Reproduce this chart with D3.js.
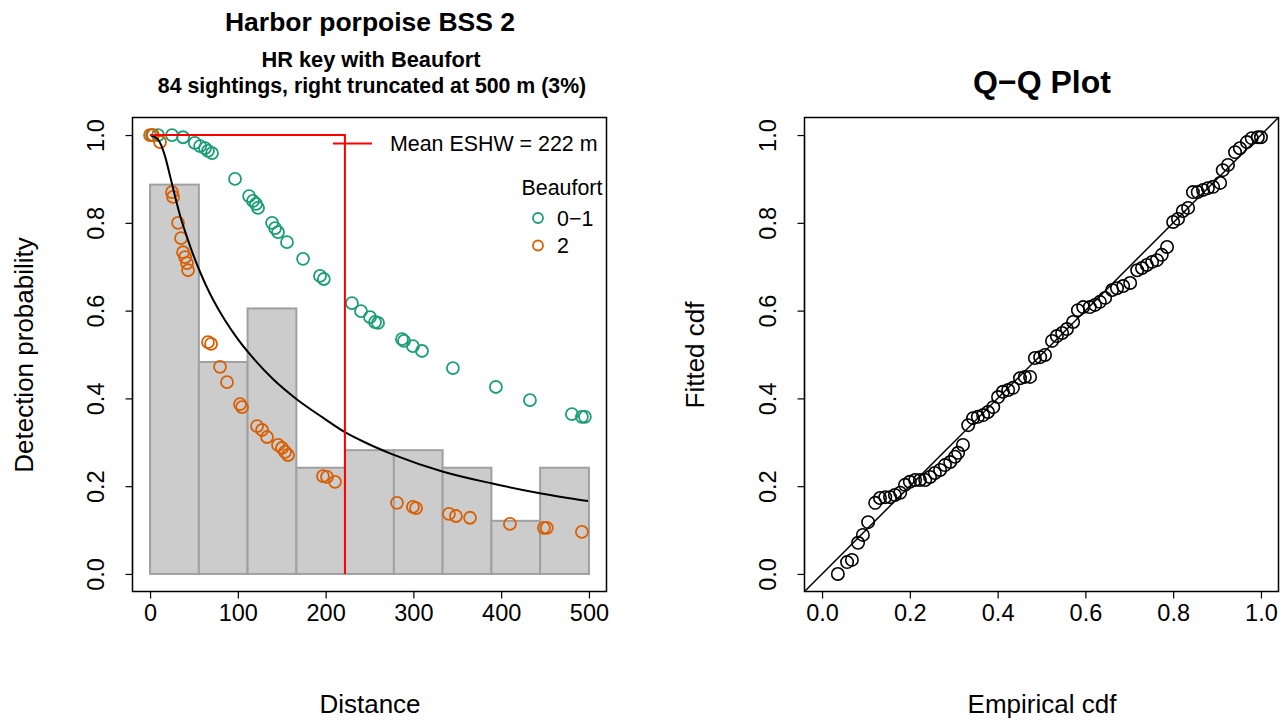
<!DOCTYPE html>
<html>
<head>
<meta charset="utf-8">
<script src="https://cdn.jsdelivr.net/npm/d3@7"></script>
<style>
  body { margin: 0; background: #fff; }
  text { font-family: "Liberation Sans", Arial, sans-serif; fill: #000; }
</style>
</head>
<body>
<div id="chart"></div>
<script>
// Histogram of distances (bin breaks and scaled heights)
const distBreaks = [0, 55.6, 111.1, 166.7, 222.2, 277.8, 333.3, 388.9, 444.4, 500];
const binHeights = [0.887, 0.483, 0.605, 0.242, 0.282, 0.282, 0.242, 0.121, 0.242];

// Detection probability per sighting, Beaufort 0-1
const greenDist = [2.3, 9.1, 25, 37.6, 51, 57, 62.6, 66, 70.6, 96.8, 112.8, 117.3, 120.7, 123, 139, 142.4, 145.8, 156,
  174.3, 193.6, 198, 230, 240.3, 250.6, 256.3, 259.7, 287, 289.3, 299.5, 309.8, 345, 394, 432.8, 480.6, 492, 495.4];
const greenProb = [1.0, 1.0, 1.0, 0.995, 0.982, 0.975, 0.97, 0.964, 0.959, 0.9, 0.861, 0.85, 0.843, 0.834, 0.8, 0.788, 0.779, 0.756,
  0.718, 0.679, 0.672, 0.617, 0.599, 0.585, 0.574, 0.572, 0.535, 0.531, 0.519, 0.508, 0.469, 0.426, 0.396, 0.364, 0.358, 0.358];

// Detection probability per sighting, Beaufort 2
const orangeDist = [0, 3.4, 11.4, 25, 26.2, 31.9, 35.3, 37.6, 39.9, 42.1, 43.3, 66, 69.5, 79.7, 87.7, 102.5, 104.8, 121.9, 127.6,
  133.3, 145.8, 150.3, 153.8, 157.2, 197, 201.6, 210.7, 281.3, 299.5, 303, 340.5, 348.5, 364.5, 410, 448.7, 452, 492];
const orangeProb = [1.0, 1.0, 0.984, 0.87, 0.859, 0.8, 0.765, 0.733, 0.722, 0.708, 0.692, 0.528, 0.524, 0.472, 0.437, 0.387, 0.38, 0.337, 0.328,
  0.312, 0.294, 0.287, 0.278, 0.271, 0.223, 0.221, 0.21, 0.162, 0.153, 0.15, 0.137, 0.132, 0.128, 0.114, 0.105, 0.105, 0.096];

// Average fitted detection function
const curveDist = [0, 9, 17, 23, 28.5, 34, 42, 49, 57, 65, 72, 85, 100, 120, 140, 167, 197, 222, 250, 277, 334, 390, 444, 499];
const curveProb = [1.0, 0.99, 0.952, 0.905, 0.86, 0.818, 0.768, 0.728, 0.688, 0.652, 0.624, 0.579, 0.535, 0.486, 0.444, 0.398,
  0.356, 0.323, 0.295, 0.272, 0.233, 0.206, 0.184, 0.166];

const eshw = 222;

// Q-Q plot values
const qqEmpirical = [0.036, 0.057, 0.068, 0.082, 0.093, 0.105, 0.121, 0.132, 0.144, 0.155, 0.166, 0.178, 0.189, 0.2, 0.212, 0.223,
  0.235, 0.246, 0.257, 0.269, 0.28, 0.292, 0.303, 0.31, 0.321, 0.333, 0.344, 0.355, 0.367, 0.378, 0.39, 0.401, 0.412, 0.424,
  0.435, 0.451, 0.462, 0.474, 0.485, 0.497, 0.508, 0.524, 0.535, 0.547, 0.558, 0.572, 0.583, 0.595, 0.61, 0.622, 0.633, 0.645,
  0.661, 0.672, 0.686, 0.702, 0.718, 0.729, 0.74, 0.752, 0.763, 0.774, 0.786, 0.8, 0.811, 0.822, 0.834, 0.845, 0.856, 0.868,
  0.879, 0.891, 0.907, 0.913, 0.925, 0.941, 0.952, 0.968, 0.979, 0.993, 1.0];
const qqFitted = [0.0, 0.027, 0.032, 0.071, 0.089, 0.118, 0.162, 0.173, 0.175, 0.175, 0.18, 0.185, 0.203, 0.21, 0.214, 0.214,
  0.214, 0.221, 0.23, 0.237, 0.248, 0.255, 0.267, 0.276, 0.294, 0.339, 0.355, 0.358, 0.362, 0.369, 0.38, 0.403, 0.415, 0.419,
  0.424, 0.446, 0.449, 0.449, 0.492, 0.494, 0.499, 0.531, 0.542, 0.549, 0.558, 0.574, 0.601, 0.608, 0.608, 0.613, 0.62, 0.629,
  0.647, 0.651, 0.656, 0.663, 0.692, 0.697, 0.704, 0.711, 0.715, 0.727, 0.745, 0.802, 0.809, 0.827, 0.834, 0.87, 0.87, 0.875,
  0.879, 0.882, 0.891, 0.92, 0.932, 0.961, 0.97, 0.984, 0.993, 0.995, 0.995];

const distTicks = [0, 100, 200, 300, 400, 500];
const probTicks = [0, 0.2, 0.4, 0.6, 0.8, 1.0];
const cdfTicks = [0, 0.2, 0.4, 0.6, 0.8, 1.0];

const legendLabels = ["0\u22121", "2"];
const colors = ["#1B9E77", "#D95F02"];

const width = 1288;
const height = 721;
const tickFont = 23.5;
const labFont = 26;
const legFont = 21.4;

const svg = d3.select("#chart")
  .append("svg")
  .attr("width", width)
  .attr("height", height);

svg.append("rect").attr("width", width).attr("height", height).attr("fill", "#fff");

// Escalas (estilo R: 4% de margen)
const x1 = d3.scaleLinear().domain([-20, 520]).range([132.5, 606.5]);
const y1 = d3.scaleLinear().domain([-0.04, 1.04]).range([591.5, 117.5]);
const x2 = d3.scaleLinear().domain([-0.04, 1.04]).range([804.5, 1278.5]);
const y2 = d3.scaleLinear().domain([-0.04, 1.04]).range([591.5, 117.5]);

const fmt1 = d3.format(".1f");

// Ejes
function bottomAxis(scale, ticks, fmt) {
  const g = svg.append("g")
    .attr("transform", `translate(0,${591.5})`)
    .call(d3.axisBottom(scale).tickValues(ticks).tickSize(7).tickPadding(0).tickFormat(fmt));
  g.select(".domain").remove();
  g.selectAll(".tick line").attr("stroke", "#000").attr("stroke-width", 1.2);
  g.selectAll(".tick text").attr("y", 29).attr("dy", 0)
    .style("font-size", tickFont + "px");
  g.append("line")
    .attr("x1", scale(ticks[0])).attr("x2", scale(ticks[ticks.length - 1]))
    .attr("stroke", "#000").attr("stroke-width", 1.2);
}

function leftAxis(scale, ticks, xPos) {
  const g = svg.append("g")
    .attr("transform", `translate(${xPos},0)`)
    .call(d3.axisLeft(scale).tickValues(ticks).tickSize(7).tickFormat(fmt1));
  g.select(".domain").remove();
  g.selectAll(".tick line").attr("stroke", "#000").attr("stroke-width", 1.2);
  g.selectAll(".tick text")
    .attr("transform", "rotate(-90)")
    .attr("x", 0).attr("y", -28.5).attr("dy", 0)
    .style("text-anchor", "middle")
    .style("font-size", tickFont + "px");
  g.append("line")
    .attr("y1", scale(ticks[0])).attr("y2", scale(ticks[ticks.length - 1]))
    .attr("stroke", "#000").attr("stroke-width", 1.2);
}

// ---------- Panel izquierdo: función de detección ----------

// Barras del histograma
const bins = binHeights.map((h, i) => ({ x0: distBreaks[i], x1: distBreaks[i + 1], h: h }));
svg.selectAll(".bar")
  .data(bins)
  .enter()
  .append("rect")
  .attr("class", "bar")
  .attr("x", d => x1(d.x0))
  .attr("y", d => y1(d.h))
  .attr("width", d => x1(d.x1) - x1(d.x0))
  .attr("height", d => y1(0) - y1(d.h))
  .attr("fill", "#cccccc")
  .attr("stroke", "#a0a0a0")
  .attr("stroke-width", 2);

// Puntos por Beaufort
const pts = greenDist.map((d, i) => ({ d: d, p: greenProb[i], c: 0 }))
  .concat(orangeDist.map((d, i) => ({ d: d, p: orangeProb[i], c: 1 })));
svg.selectAll(".pt")
  .data(pts)
  .enter()
  .append("circle")
  .attr("class", "pt")
  .attr("cx", d => x1(d.d))
  .attr("cy", d => y1(d.p))
  .attr("r", 6)
  .attr("fill", "none")
  .attr("stroke", d => colors[d.c])
  .attr("stroke-width", 1.8);

// Curva ajustada
const line1 = d3.line()
  .x((d, i) => x1(curveDist[i]))
  .y((d, i) => y1(curveProb[i]))
  .curve(d3.curveMonotoneX);
svg.append("path")
  .attr("d", line1(curveDist))
  .attr("fill", "none")
  .attr("stroke", "#000")
  .attr("stroke-width", 2);

// Líneas del ESHW
svg.append("path")
  .attr("d", `M${x1(0)},${y1(1)}H${x1(eshw)}V${y1(0)}`)
  .attr("fill", "none")
  .attr("stroke", "#ff0000")
  .attr("stroke-width", 2);

// Marco
svg.append("rect")
  .attr("x", x1(-20)).attr("y", y1(1.04))
  .attr("width", x1(520) - x1(-20)).attr("height", y1(-0.04) - y1(1.04))
  .attr("fill", "none").attr("stroke", "#000").attr("stroke-width", 1.5);

bottomAxis(x1, distTicks, d3.format("d"));
leftAxis(y1, probTicks, x1(-20));

// Leyenda
svg.append("line")
  .attr("x1", 333).attr("x2", 372).attr("y1", 143.5).attr("y2", 143.5)
  .attr("stroke", "#ff0000").attr("stroke-width", 2);
svg.append("text")
  .attr("x", 390).attr("y", 151)
  .style("font-size", legFont + "px")
  .text(`Mean ESHW = ${eshw} m`);
svg.append("text")
  .attr("x", 562).attr("y", 195)
  .attr("text-anchor", "middle")
  .style("font-size", legFont + "px")
  .text("Beaufort");
legendLabels.forEach((lab, i) => {
  svg.append("circle")
    .attr("cx", 538).attr("cy", 218 + i * 27.5).attr("r", 5)
    .attr("fill", "none").attr("stroke", colors[i]).attr("stroke-width", 1.8);
  svg.append("text")
    .attr("x", 557).attr("y", 225.5 + i * 27.5)
    .style("font-size", legFont + "px")
    .text(lab);
});

// Títulos
svg.append("text")
  .attr("x", 370).attr("y", 31)
  .attr("text-anchor", "middle")
  .style("font-size", "26.5px").style("font-weight", "bold")
  .text("Harbor porpoise BSS 2");
svg.append("text")
  .attr("x", 371).attr("y", 67)
  .attr("text-anchor", "middle")
  .style("font-size", "21.8px").style("font-weight", "bold")
  .text("HR key with Beaufort");
svg.append("text")
  .attr("x", 372).attr("y", 93)
  .attr("text-anchor", "middle")
  .style("font-size", "21.3px").style("font-weight", "bold")
  .text("84 sightings, right truncated at 500 m (3%)");

svg.append("text")
  .attr("x", 370).attr("y", 713)
  .attr("text-anchor", "middle")
  .style("font-size", labFont + "px")
  .text("Distance");
svg.append("text")
  .attr("transform", "translate(33,355) rotate(-90)")
  .attr("text-anchor", "middle")
  .style("font-size", labFont + "px")
  .text("Detection probability");

// ---------- Panel derecho: gráfico Q-Q ----------

// Línea y = x recortada al marco
svg.append("clipPath").attr("id", "qqclip")
  .append("rect")
  .attr("x", x2(-0.04)).attr("y", y2(1.04))
  .attr("width", x2(1.04) - x2(-0.04)).attr("height", y2(-0.04) - y2(1.04));
svg.append("line")
  .attr("clip-path", "url(#qqclip)")
  .attr("x1", x2(-0.04)).attr("y1", y2(-0.04))
  .attr("x2", x2(1.04)).attr("y2", y2(1.04))
  .attr("stroke", "#000").attr("stroke-width", 1.5);

svg.selectAll(".qq")
  .data(qqEmpirical)
  .enter()
  .append("circle")
  .attr("class", "qq")
  .attr("cx", d => x2(d))
  .attr("cy", (d, i) => y2(qqFitted[i]))
  .attr("r", 6.2)
  .attr("fill", "none")
  .attr("stroke", "#000")
  .attr("stroke-width", 1.6);

svg.append("rect")
  .attr("x", x2(-0.04)).attr("y", y2(1.04))
  .attr("width", x2(1.04) - x2(-0.04)).attr("height", y2(-0.04) - y2(1.04))
  .attr("fill", "none").attr("stroke", "#000").attr("stroke-width", 1.5);

bottomAxis(x2, cdfTicks, fmt1);
leftAxis(y2, cdfTicks, x2(-0.04));

svg.append("text")
  .attr("x", 1042).attr("y", 93)
  .attr("text-anchor", "middle")
  .style("font-size", "32px").style("font-weight", "bold")
  .text("Q\u2212Q Plot");
svg.append("text")
  .attr("x", 1042).attr("y", 713)
  .attr("text-anchor", "middle")
  .style("font-size", labFont + "px")
  .text("Empirical cdf");
svg.append("text")
  .attr("transform", "translate(704,355) rotate(-90)")
  .attr("text-anchor", "middle")
  .style("font-size", labFont + "px")
  .text("Fitted cdf");
</script>
</body>
</html>
